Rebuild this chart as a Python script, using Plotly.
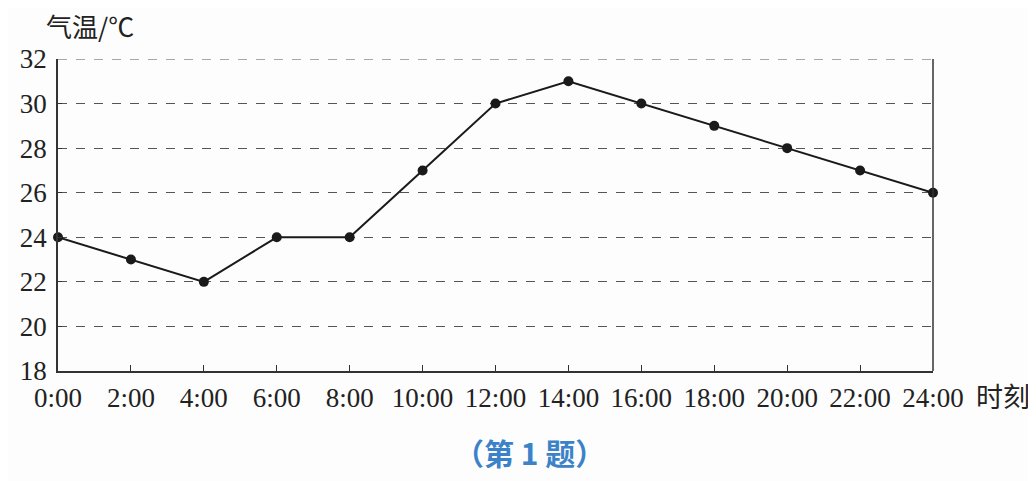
import plotly.graph_objects as go

hours = [0, 2, 4, 6, 8, 10, 12, 14, 16, 18, 20, 22, 24]
hour_labels = ["0:00", "2:00", "4:00", "6:00", "8:00", "10:00", "12:00",
               "14:00", "16:00", "18:00", "20:00", "22:00", "24:00"]
temps = [24, 23, 22, 24, 24, 27, 30, 31, 30, 29, 28, 27, 26]
y_ticks = [18, 20, 22, 24, 26, 28, 30, 32]

fig = go.Figure()
fig.add_trace(go.Scatter(
    x=hours, y=temps, mode="lines+markers",
    line=dict(color="#1a1a1a", width=2),
    marker=dict(color="#1a1a1a", size=10),
    cliponaxis=False, showlegend=False,
))

serif = "Liberation Serif, Times New Roman, serif"
fig.update_layout(
    width=1028, height=473,
    margin=dict(l=50, r=103, t=51, b=110),
    paper_bgcolor="#fdfdfd", plot_bgcolor="#fdfdfd",
    font=dict(family=serif, size=27, color="#222"),
)
fig.update_xaxes(
    range=[0, 24], tickvals=hours, ticktext=hour_labels,
    showgrid=False, zeroline=False,
    showline=True, linecolor="#333", linewidth=1.5,
    ticks="inside", ticklen=6, tickcolor="#333",
    ticklabelstandoff=2,
)
fig.update_yaxes(
    range=[18, 32], tickvals=y_ticks,
    showgrid=True, gridcolor="#555", griddash="dash", gridwidth=1,
    zeroline=False,
    showline=True, linecolor="#333", linewidth=1.5,
    ticks="inside", ticklen=4, tickcolor="#333",
    ticklabelstandoff=4,
)
# right border
fig.add_shape(type="line", xref="paper", yref="paper", x0=1, x1=1, y0=0, y1=1,
              line=dict(color="#333", width=1.5))
# top dashed gridline at 32
fig.add_shape(type="line", xref="paper", yref="y", x0=0, x1=1, y0=32, y1=32,
              line=dict(color="#555", width=1, dash="dash"), layer="below")

fig.add_annotation(text="气温/℃", xref="paper", yref="paper", x=0.036, y=1.106,
                   xanchor="center", yanchor="middle", showarrow=False,
                   font=dict(family="Noto Sans CJK SC, serif", size=26, color="#222"))
fig.add_annotation(text="时刻", xref="paper", yref="paper", x=1.08, y=-0.077,
                   xanchor="center", yanchor="middle", showarrow=False,
                   font=dict(family="Noto Sans CJK SC, serif", size=27, color="#222"))
fig.add_annotation(text="（第 1 题）", xref="paper", yref="paper", x=0.539, y=-0.26,
                   xanchor="center", yanchor="middle", showarrow=False,
                   font=dict(family="Noto Sans CJK SC, sans-serif", size=30, color="#3b82c8",
                             weight="bold"))

fig.write_html("out.html")
